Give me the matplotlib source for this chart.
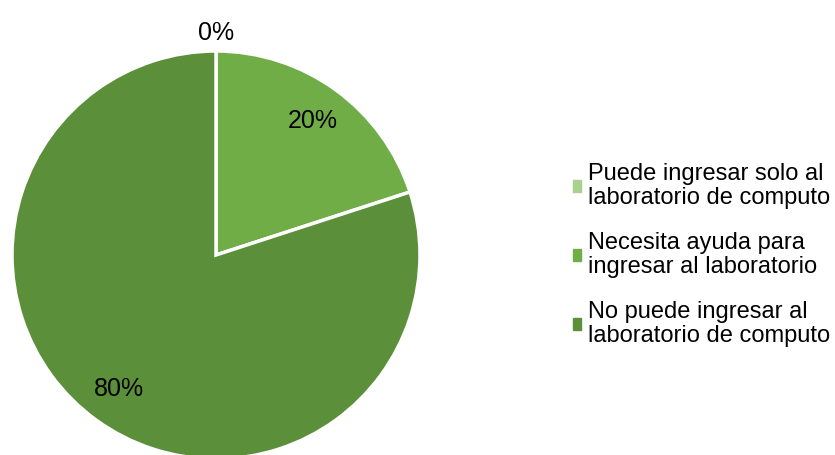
import matplotlib
matplotlib.use("Agg")
import matplotlib.pyplot as plt
import numpy as np

plt.rcParams['font.family'] = ['Liberation Sans', 'DejaVu Sans']

categories = [
    "Puede ingresar solo al\nlaboratorio de computo",
    "Necesita ayuda para\ningresar al laboratorio",
    "No puede ingresar al\nlaboratorio de computo",
]
values = [0, 20, 80]
colors = ["#A9D08E", "#70AD47", "#5B8F3A"]

W, H = 835, 455
fig = plt.figure(figsize=(W / 100, H / 100), dpi=100)

# pie area in pixel terms: centre (216, 255), radius 204
cx, cy, r = 216, 255, 204
ax = fig.add_axes([(cx - r) / W, (H - cy - r) / H, 2 * r / W, 2 * r / H])

wedges, _ = ax.pie(values, colors=colors, startangle=90, counterclock=False,
                   radius=1.0, wedgeprops=dict(edgecolor='white', linewidth=2.5))
ax.set_xlim(-1, 1)
ax.set_ylim(-1, 1)
ax.set_aspect('equal')
ax.axis('off')
for w in wedges:
    w.set_clip_on(False)

# percentage labels, placed along each wedge's bisector
for w, v in zip(wedges, values):
    mid = np.deg2rad((w.theta1 + w.theta2) / 2)
    dist = 1.09 if v == 0 else 0.81
    ax.text(dist * np.cos(mid), dist * np.sin(mid), f"{v}%",
            ha='center', va='center', fontsize=18, color='black', clip_on=False)

handles = [plt.Rectangle((0, 0), 1, 1, color=c) for c in colors]
leg = fig.legend(handles, categories, loc='center left',
                 bbox_to_anchor=(573 / W, 1 - 255 / H), frameon=False,
                 fontsize=17, handlelength=0.35, handleheight=0.35,
                 handletextpad=0.3, labelspacing=0.95, borderaxespad=0,
                 borderpad=0)
for t in leg.get_texts():
    t.set_linespacing(1.15)

fig.savefig("out.png", dpi=100, facecolor='white')
